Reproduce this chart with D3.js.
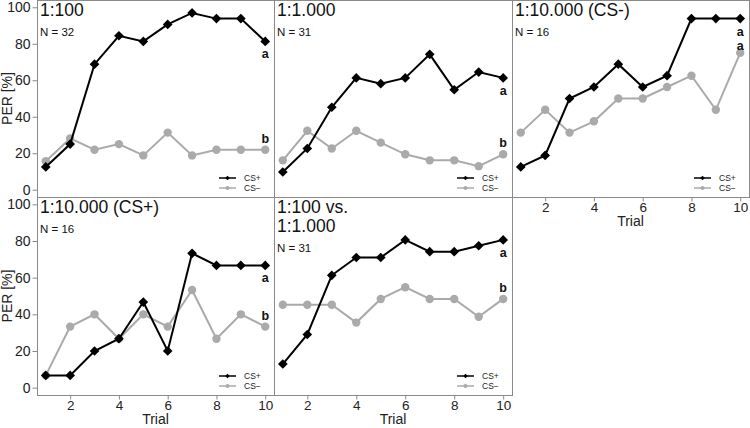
<!DOCTYPE html>
<html><head><meta charset="utf-8">
<script src="https://cdn.jsdelivr.net/npm/d3@7"></script>
<style>body{margin:0;background:#fff}svg{display:block;font-family:"Liberation Sans",Arial,sans-serif}</style>
</head><body><svg id="c" width="750" height="428"></svg>
<script>
const trials = [1,2,3,4,5,6,7,8,9,10];
const yTicks = [0,20,40,60,80,100];
const xTicks = [2,4,6,8,10];
const titles = [["1:100"],["1:1.000"],["1:10.000 (CS-)"],["1:10.000 (CS+)"],["1:100 vs.","1:1.000"]];
const nLabels = ["N = 32","N = 31","N = 16","N = 16","N = 31"];
const csPlus = [
  [12.5,25,68.8,84.4,81.3,90.6,96.9,93.8,93.8,81.3],
  [9.7,22.6,45.2,61.3,58.1,61.3,74.2,54.8,64.5,61.3],
  [12.5,18.8,50,56.3,68.8,56.3,62.5,93.8,93.8,93.8],
  [6.7,6.7,20,26.7,46.7,20,73.3,66.7,66.7,66.7],
  [12.9,29.0,61.3,71.0,71.0,80.6,74.2,74.2,77.4,80.6]
];
const csMinus = [
  [15.6,28.1,21.9,25,18.8,31.3,18.8,21.9,21.9,21.9],
  [16.1,32.3,22.6,32.3,25.8,19.4,16.1,16.1,12.9,19.4],
  [31.3,43.8,31.3,37.5,50,50,56.3,62.5,43.8,75],
  [6.7,33.3,40,26.7,40,33.3,53.3,26.7,40,33.3],
  [45.2,45.2,45.2,35.5,48.4,54.8,48.4,48.4,38.7,48.4]
];
const sigPlus = ["a","a","a","a","a"];
const sigMinus = ["b","b","a","b","b"];
const legendLabels = ["CS+","CS\u2212"];

const svg = d3.select("#c");
const boxCol = "#8a8a8a", txtCol = "#222", grey = "#aaaaaa";
const cols = [37,274,512,749];
const rows = [[0,197],[197,395]];
const panels = [
  {c:0,r:0,yAxis:true,xAxis:false},
  {c:1,r:0,yAxis:false,xAxis:false},
  {c:2,r:0,yAxis:false,xAxis:true},
  {c:0,r:1,yAxis:true,xAxis:true},
  {c:1,r:1,yAxis:false,xAxis:true}
];
const diamond = d3.symbol().type(d3.symbolDiamond2).size(60);
const diamondSm = d3.symbol().type(d3.symbolDiamond2).size(14);

panels.forEach((p,i)=>{
  const x0 = cols[p.c], x1 = cols[p.c+1], y0 = rows[p.r][0], y1 = rows[p.r][1];
  const x = d3.scaleLinear().domain([0.64,10.36]).range([x0,x1]);
  const y = d3.scaleLinear().domain([-4,104]).range([y1,y0]);
  const g = svg.append("g");
  g.append("rect").attr("x",x0+0.5).attr("y",y0+0.5).attr("width",x1-x0).attr("height",y1-y0)
    .attr("fill","none").attr("stroke",boxCol).attr("stroke-width",1);
  if(p.yAxis){
    const ax = g.append("g").attr("transform",`translate(${x0+0.5},0)`)
      .call(d3.axisLeft(y).tickValues(yTicks).tickSize(5).tickPadding(2).tickFormat(d3.format("d")));
    ax.select(".domain").remove();
    ax.selectAll("line").attr("stroke",boxCol);
    ax.selectAll("text").attr("fill",txtCol).style("font-size","14px").style("font-family","'Liberation Sans',Arial,sans-serif");
    g.append("text").attr("transform",`translate(12,${(y0+y1)/2}) rotate(-90)`)
      .attr("text-anchor","middle").attr("fill",txtCol).style("font-size","14px").text("PER [%]");
  }
  if(p.xAxis){
    const ax = g.append("g").attr("transform",`translate(0,${y1+0.5})`)
      .call(d3.axisBottom(x).tickValues(xTicks).tickSize(4).tickPadding(1).tickFormat(d3.format("d")));
    ax.select(".domain").remove();
    ax.selectAll("line").attr("stroke",boxCol);
    ax.selectAll("text").attr("fill",txtCol).style("font-size","13.5px").style("font-family","'Liberation Sans',Arial,sans-serif");
    g.append("text").attr("x",(x0+x1)/2).attr("y",y1+29).attr("text-anchor","middle")
      .attr("fill",txtCol).style("font-size","14px").text("Trial");
  }
  // title
  titles[i].forEach((t,k)=>{
    g.append("text").attr("x",x0+3).attr("y",y0+16+k*19).attr("fill","#111")
      .style("font-size","17.5px").text(t);
  });
  g.append("text").attr("x",x0+3).attr("y",y0+36+(titles[i].length-1)*19).attr("fill","#111")
    .style("font-size","11.5px").text(nLabels[i]);
  // lines
  const line = d3.line().x((d,j)=>x(trials[j])).y(d=>y(d));
  g.append("path").datum(csMinus[i]).attr("d",line).attr("fill","none").attr("stroke",grey).attr("stroke-width",2);
  g.selectAll(".pm").data(csMinus[i]).join("circle").attr("cx",(d,j)=>x(trials[j])).attr("cy",d=>y(d))
    .attr("r",4.2).attr("fill",grey);
  g.append("path").datum(csPlus[i]).attr("d",line).attr("fill","none").attr("stroke","#000").attr("stroke-width",2);
  g.selectAll(".pp").data(csPlus[i]).join("path").attr("d",diamond)
    .attr("transform",(d,j)=>`translate(${x(trials[j])},${y(d)})`).attr("fill","#000");
  // significance letters
  const xl = x(trials[9]);
  const yPlusL = y(csPlus[i][9]) + 17;
  let yMinusL = y(csMinus[i][9]) - 7;
  if (yMinusL > yPlusL - 20 && yMinusL < yPlusL + 14) yMinusL = yPlusL + 14;
  g.append("text").attr("x",xl).attr("y",yPlusL).attr("text-anchor","middle")
    .attr("fill","#111").style("font-size","12.5px").style("font-weight","bold").text(sigPlus[i]);
  g.append("text").attr("x",xl).attr("y",yMinusL).attr("text-anchor","middle")
    .attr("fill","#111").style("font-size","12.5px").style("font-weight","bold").text(sigMinus[i]);
  // legend
  const lg = g.append("g");
  legendLabels.forEach((lab,k)=>{
    const ly = y1 - 19 + k*10;
    const col = k===0 ? "#000" : grey;
    lg.append("line").attr("x1",x1-55).attr("x2",x1-38).attr("y1",ly).attr("y2",ly).attr("stroke",col).attr("stroke-width",1.5);
    if(k===0) lg.append("path").attr("d",diamondSm).attr("transform",`translate(${x1-46.5},${ly})`).attr("fill",col);
    else lg.append("circle").attr("cx",x1-46.5).attr("cy",ly).attr("r",2).attr("fill",col);
    lg.append("text").attr("x",x1-30).attr("y",ly+3).attr("fill",txtCol).style("font-size","8.5px").text(lab);
  });
});
</script></body></html>
